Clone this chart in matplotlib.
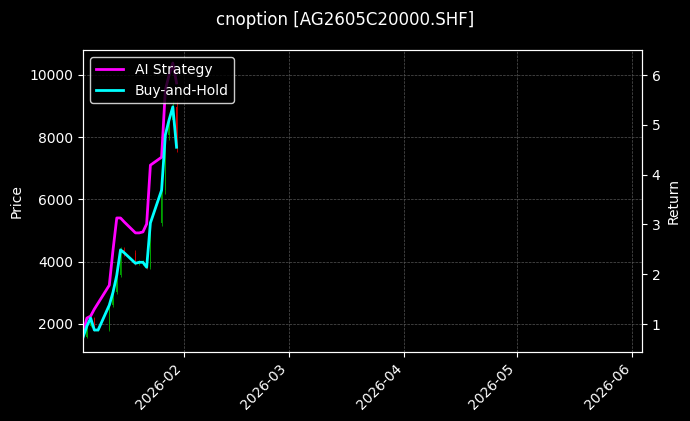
import numpy as np
import pandas as pd
from matplotlib import pyplot as plt
import matplotlib.dates as mdates

dates = pd.to_datetime([
    "2026-01-05", "2026-01-06", "2026-01-07", "2026-01-08", "2026-01-09",
    "2026-01-12", "2026-01-13", "2026-01-14", "2026-01-15", "2026-01-16",
    "2026-01-19", "2026-01-20", "2026-01-21", "2026-01-22", "2026-01-23",
    "2026-01-26", "2026-01-27", "2026-01-28", "2026-01-29", "2026-01-30"])
close = [1580, 1935, 2190, 1810, 1810, 2610, 3030, 3575, 4380, 4280,
         3960, 3990, 3990, 3830, 5250, 6310, 8070, 8550, 8975, 7690]
strategy_return = [0.82, 1.12, 1.16, 1.30, 1.42, 1.78, 2.49, 3.13, 3.13, 3.05,
                   2.83, 2.83, 2.85, 3.01, 4.19, 4.35, 5.70, 6.00, 6.24, 5.84]
buyhold_return = [0.74, 0.96, 1.12, 0.88, 0.88, 1.38, 1.64, 1.98, 2.49, 2.43,
                  2.22, 2.24, 2.24, 2.14, 3.03, 3.69, 4.80, 5.10, 5.36, 4.55]

plt.style.use("dark_background")
fig = plt.figure(figsize=(6.9, 4.21), dpi=100)
ax = fig.add_axes([0.1205, 0.164, 0.810, 0.717])

# tiny candlesticks
opens = [close[0] * 0.97] + close[:-1]
for d, o, c in zip(dates, opens, close):
    col = "#00a000" if c >= o else "#d00000"
    ax.vlines(d, min(o, c) * 0.98, max(o, c) * 1.02, color=col, linewidth=0.6)
    ax.bar(d, abs(c - o), bottom=min(o, c), width=0.4, color=col)

ax.set_ylim(1100, 10800)
ax.set_ylabel("Price")
ax.set_xlim(pd.Timestamp("2026-01-05"), pd.Timestamp("2026-06-03 14:00"))
ax.grid(True, linestyle="--", linewidth=0.5, color="#555555")
ax.xaxis.set_major_locator(mdates.MonthLocator())
ax.xaxis.set_major_formatter(mdates.DateFormatter("%Y-%m"))
plt.setp(ax.get_xticklabels(), rotation=45, ha="right")

ax2 = ax.twinx()
l1, = ax2.plot(dates, strategy_return, color="#ff00ff", linewidth=2, label="AI Strategy")
l2, = ax2.plot(dates, buyhold_return, color="#00ffff", linewidth=2, label="Buy-and-Hold")
ax2.set_ylim(0.44, 6.5)
ax2.set_ylabel("Return")
ax2.legend(handles=[l1, l2], loc="upper left", edgecolor="white", facecolor="black")

fig.suptitle("cnoption [AG2605C20000.SHF]", y=0.975)
fig.savefig("out.png")
